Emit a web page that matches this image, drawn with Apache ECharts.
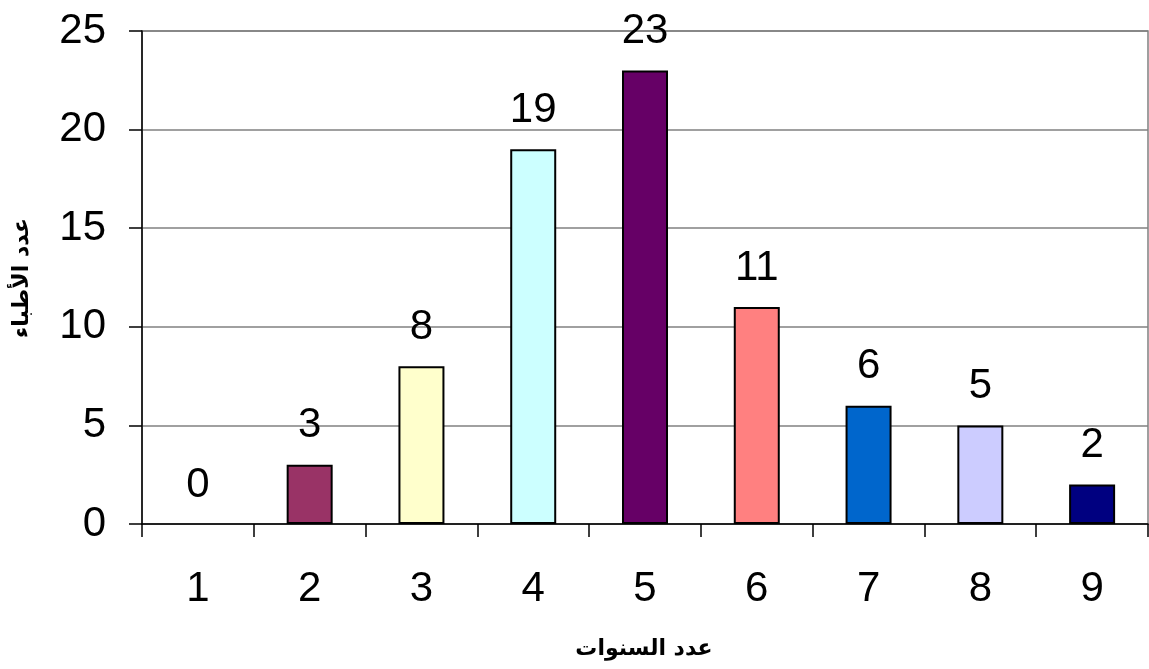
<!DOCTYPE html>
<html>
<head>
<meta charset="utf-8">
<script src="https://cdn.jsdelivr.net/npm/echarts@6/dist/echarts.min.js"></script>
<style>
html,body{margin:0;padding:0;background:#fff;}
#chart{width:1149px;height:669px;}
</style>
</head>
<body>
<div id="chart"></div>
<script>
var categories = ['1','2','3','4','5','6','7','8','9'];
var values = [0, 3, 8, 19, 23, 11, 6, 5, 2];
var barColors = ['#9999FF', '#993366', '#FFFFCC', '#CCFFFF', '#660066', '#FF8080', '#0066CC', '#CCCCFF', '#000080'];
var yTicks = [0, 5, 10, 15, 20, 25];
var xTitle = 'عدد السنوات';
var yTitle = 'عدد الأطباء';

var chart = echarts.init(document.getElementById('chart'));
var numFont = '"Liberation Sans", Arial, sans-serif';
chart.setOption({
  animation: false,
  backgroundColor: '#ffffff',
  grid: { left: 142, right: 1, top: 31, bottom: 145, show: true, borderColor: '#808080', borderWidth: 1.5 },
  xAxis: {
    type: 'category',
    data: categories,
    boundaryGap: true,
    axisLine: { lineStyle: { color: '#000', width: 1.5 } },
    axisTick: { show: true, alignWithLabel: false, length: 13, lineStyle: { color: '#000', width: 1.5 } },
    axisLabel: { fontSize: 42, color: '#000', fontFamily: numFont, margin: 44 }
  },
  yAxis: {
    type: 'value',
    min: yTicks[0],
    max: yTicks[yTicks.length - 1],
    interval: 5,
    axisLine: { show: true, lineStyle: { color: '#000', width: 1.5 } },
    axisTick: { show: true, length: 13, lineStyle: { color: '#000', width: 1.5 } },
    axisLabel: { fontSize: 42, color: '#000', fontFamily: numFont, margin: 36 },
    splitLine: { show: true, lineStyle: { color: '#808080', width: 1.5 } }
  },
  series: [{
    type: 'bar',
    data: values.map(function (v, i) {
      return { value: v, itemStyle: { color: barColors[i], borderWidth: v === 0 ? 0 : 2 } };
    }),
    barWidth: 46,
    itemStyle: { borderColor: '#000', borderWidth: 2 },
    label: {
      show: true,
      position: 'top',
      distance: 18,
      fontSize: 42,
      color: '#000',
      fontFamily: numFont
    }
  }],
  graphic: [
    {
      type: 'text',
      x: 644, y: 649,
      style: { text: xTitle, font: 'bold 22px "DejaVu Sans", sans-serif', fill: '#000', textAlign: 'center', textVerticalAlign: 'middle' }
    },
    {
      type: 'text',
      x: 22, y: 278,
      rotation: Math.PI / 2,
      style: { text: yTitle, font: 'bold 22px "DejaVu Sans", sans-serif', fill: '#000', textAlign: 'center', textVerticalAlign: 'middle' }
    }
  ]
});
</script>
</body>
</html>
